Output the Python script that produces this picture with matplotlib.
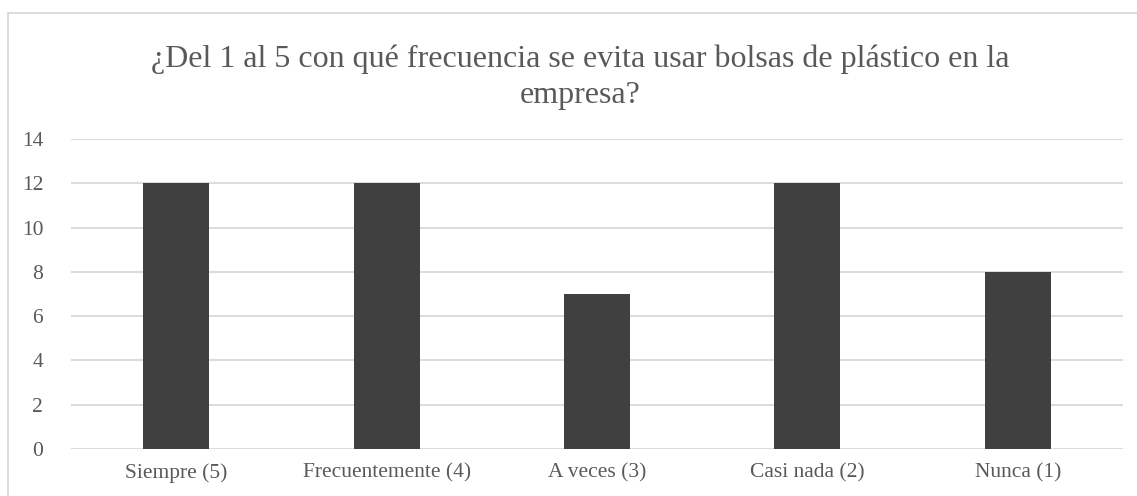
import numpy as np
import matplotlib.pyplot as plt
from matplotlib.patches import Rectangle

# data
categorias = ["Siempre (5)", "Frecuentemente (4)", "A veces (3)", "Casi nada (2)", "Nunca (1)"]
valores = [12, 12, 7, 12, 8]
yticks = [0, 2, 4, 6, 8, 10, 12, 14]

titulo = "¿Del 1 al 5 con qué frecuencia se evita usar bolsas de plástico en la\nempresa?"

plt.rcParams['font.family'] = ['Liberation Serif', 'DejaVu Serif']
txt_color = '#595959'
grid_color = '#d9d9d9'

fig = plt.figure(figsize=(11.37, 4.96), dpi=100)
ax = fig.add_axes([71/1137, 1 - 449/496, (1123 - 71)/1137, (449 - 139)/496])

x = np.arange(len(categorias))
ax.bar(x, valores, width=0.313, color='#404040', zorder=3)

ax.set_xlim(-0.5, len(categorias) - 0.5)
ax.set_ylim(0, 14)
ax.set_yticks(yticks)
ax.set_xticks(x)
ax.set_xticklabels(categorias)
ax.yaxis.grid(True, color=grid_color, lw=1.3, zorder=0)
ax.tick_params(axis='y', length=0, pad=20, labelsize=15.5, labelcolor=txt_color)
ax.tick_params(axis='x', length=0, pad=10, labelsize=15.5, labelcolor=txt_color)
for s in ax.spines.values():
    s.set_visible(False)

fig.text(580/1137, 1 - 103/496, titulo, ha='center', va='baseline', fontsize=23,
         color=txt_color, linespacing=1.3)

# chart border (cut off on right and bottom)
fig.patches.append(Rectangle((8/1137, -0.05), 1.2, 1 - 13/496 + 0.05, transform=fig.transFigure,
                             fill=False, edgecolor=grid_color, lw=1.3))

fig.savefig('out.png', dpi=100)
